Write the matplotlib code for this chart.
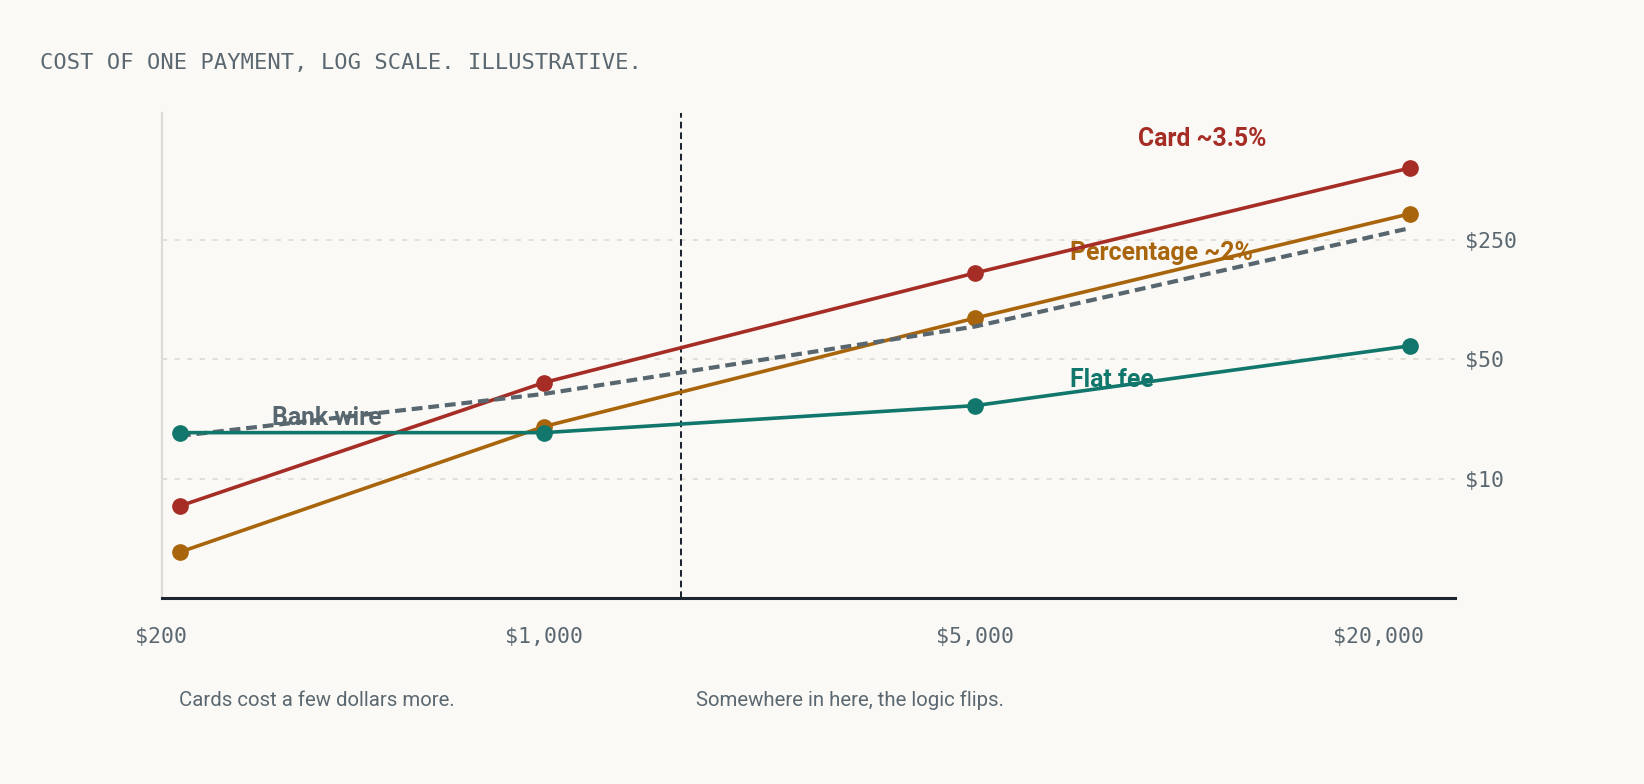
import matplotlib
matplotlib.use("Agg")
import matplotlib.pyplot as plt
import matplotlib.transforms as mtransforms
from matplotlib.ticker import NullLocator, NullFormatter
import numpy as np

# ---------------- data ----------------
amounts = [200, 1000, 5000, 20000]
card_cost = [6.9, 36.6, 161, 665]
percentage_cost = [3.7, 20.2, 87.5, 358]
flat_fee_cost = [18.6, 18.6, 26.8, 60.1]
bank_wire_cost = [17.8, 31.4, 78.1, 295]
flip_amount = 1720

x_ticks = [200, 1000, 5000, 20000]
x_tick_labels = ["$200", "$1,000", "$5,000", "$20,000"]
y_ticks = [10, 50, 250]
y_tick_labels = ["$10", "$50", "$250"]

title_text = "COST OF ONE PAYMENT, LOG SCALE. ILLUSTRATIVE."
note_left = "Cards cost a few dollars more."
note_mid = "Somewhere in here, the logic flips."
label_card = "Card ~3.5%"
label_pct = "Percentage ~2%"
label_flat = "Flat fee"
label_wire = "Bank wire"

# ---------------- style ----------------
BG = "#faf9f5"
RED = "#a52d25"
ORANGE = "#a9650b"
TEAL = "#11766b"
SLATE = "#58676f"
INK = "#1b2630"
TEXT = "#5b6871"
GRID = "#e0ddd6"
LSPINE = "#dcdcd9"
MONO = ["DejaVu Sans Mono"]
SANS = ["Roboto", "DejaVu Sans"]

plt.rcParams["font.family"] = MONO

fig = plt.figure(figsize=(16.44, 7.84), dpi=100, facecolor=BG)
ax = fig.add_axes([162 / 1644, 1 - 597.6 / 784, (1455 - 162) / 1644, (597.6 - 113) / 784])
ax.set_facecolor(BG)

P = 0.105
def fwd(x):
    x = np.asarray(x, dtype=float)
    return np.sign(x) * np.abs(x) ** P
def inv(y):
    y = np.asarray(y, dtype=float)
    return np.sign(y) * np.abs(y) ** (1.0 / P)

ax.set_xscale("function", functions=(fwd, inv))
ax.set_yscale("log")
ax.set_xlim(183.4, 22870)
ax.set_ylim(2, 1400)

# grid + spines
ax.set_axisbelow(True)
ax.yaxis.tick_right()
ax.set_yticks(y_ticks)
ax.set_yticklabels(y_tick_labels)
ax.yaxis.set_minor_locator(NullLocator())
ax.yaxis.set_minor_formatter(NullFormatter())
ax.set_xticks(x_ticks)
ax.set_xticklabels(x_tick_labels)
ax.xaxis.set_minor_locator(NullLocator())
ax.grid(axis="y", which="major", color=GRID, linewidth=1.3, linestyle=(0, (2.8, 4.2)))
ax.grid(axis="x", visible=False)
for s in ("top", "right"):
    ax.spines[s].set_visible(False)
ax.spines["left"].set_color(LSPINE)
ax.spines["left"].set_linewidth(1.6)
ax.spines["bottom"].set_color(INK)
ax.spines["bottom"].set_linewidth(2.2)

ax.tick_params(axis="both", which="both", length=0, labelsize=15.5, labelcolor=TEXT)
ax.tick_params(axis="x", pad=21)
ax.tick_params(axis="y", pad=7)

# shift outer x tick labels like in the reference
for lbl, dx in zip(ax.xaxis.get_majorticklabels(), [-19, 0, 0, -31]):
    lbl.set_transform(lbl.get_transform() + mtransforms.ScaledTranslation(dx / 100, 0, fig.dpi_scale_trans))

# flip line
ax.axvline(flip_amount, color=INK, linewidth=1.45, linestyle=(0, (3.3, 2.0)), zorder=2.6)

# series
ax.plot(amounts, percentage_cost, color=ORANGE, linewidth=2.6, marker="o", markersize=11, zorder=3.0)
ax.plot(amounts, card_cost, color=RED, linewidth=2.6, marker="o", markersize=11, zorder=3.1)
ax.plot(amounts, bank_wire_cost, color=SLATE, linewidth=3.0, linestyle=(0, (2.6, 1.4)), zorder=3.2)
ax.plot(amounts, flat_fee_cost, color=TEAL, linewidth=2.6, marker="o", markersize=11, zorder=3.3)

# series labels (drawn under the lines)
lab_kw = dict(transform=fig.transFigure, fontfamily=SANS, fontweight="bold", fontsize=17.8,
              ha="left", va="baseline", zorder=2.5)
ax.text(1137.6 / 1644, 1 - 146.2 / 784, label_card, color=RED, **lab_kw)
ax.text(1069.5 / 1644, 1 - 260.4 / 784, label_pct, color=ORANGE, **lab_kw)
ax.text(1069.5 / 1644, 1 - 386.7 / 784, label_flat, color=TEAL, **lab_kw)
ax.text(271.6 / 1644, 1 - 424.7 / 784, label_wire, color=SLATE, **lab_kw)

# title and notes
fig.text(39.8 / 1644, 1 - 69 / 784, title_text, color=TEXT, fontsize=15.9, fontfamily=MONO,
         ha="left", va="baseline")
fig.text(179 / 1644, 1 - 706 / 784, note_left, color=TEXT, fontsize=14.7, fontfamily=SANS,
         ha="left", va="baseline")
fig.text(695.5 / 1644, 1 - 706 / 784, note_mid, color=TEXT, fontsize=14.7, fontfamily=SANS,
         ha="left", va="baseline")

fig.savefig("out.png", dpi=100, facecolor=BG)
